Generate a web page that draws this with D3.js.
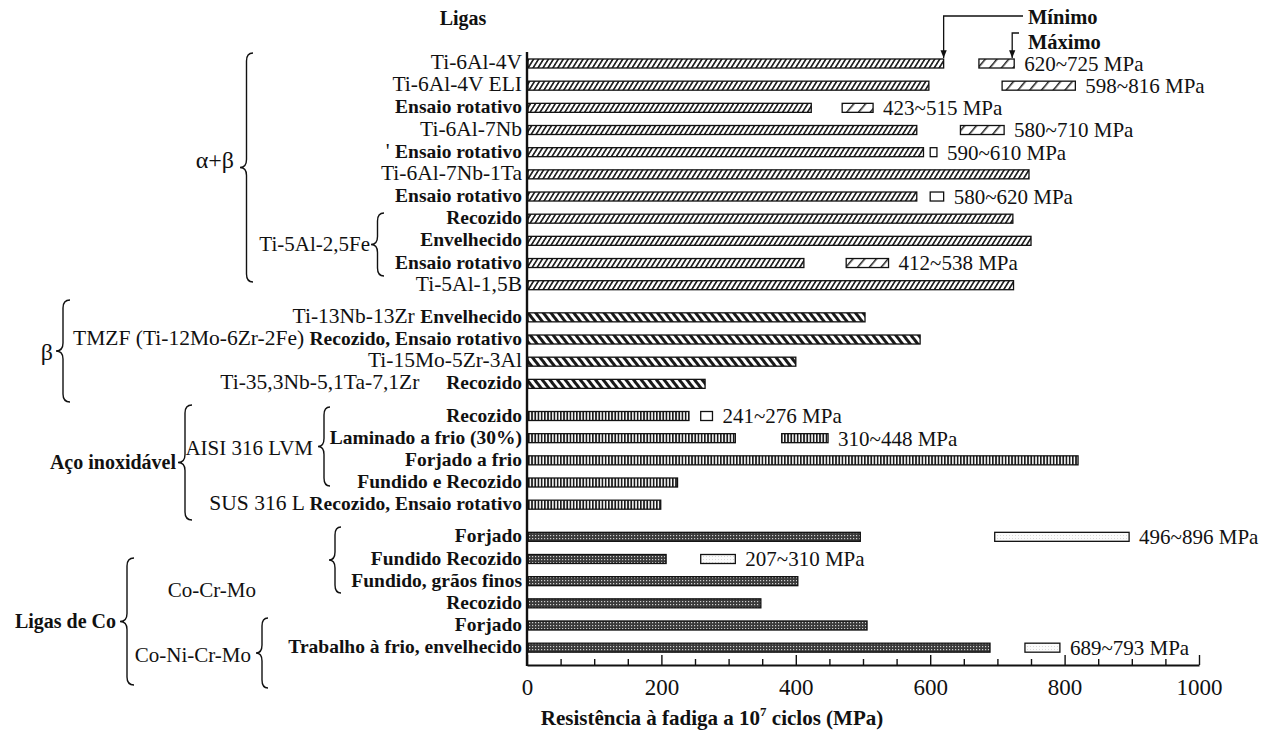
<!DOCTYPE html>
<html>
<head>
<meta charset="utf-8">
<script src="https://cdn.jsdelivr.net/npm/d3@7"></script>
<style>
  body { margin: 0; background: #fff; }
  text { font-family: "Liberation Serif", "Times New Roman", serif; fill: #111; }
</style>
</head>
<body>
<svg id="chart" width="1273" height="734"></svg>
<script>
// Fatigue strength at 10^7 cycles (MPa) of biomedical alloys
const alloyNames = [
  "Ti-6Al-4V", "Ti-6Al-4V ELI", "", "Ti-6Al-7Nb", "' ", "Ti-6Al-7Nb-1Ta", "",
  "", "", "", "Ti-5Al-1,5B",
  "Ti-13Nb-13Zr ", "TMZF (Ti-12Mo-6Zr-2Fe) ", "Ti-15Mo-5Zr-3Al", "Ti-35,3Nb-5,1Ta-7,1Zr     ",
  "", "", "", "", "SUS 316 L ",
  "", "", "", "", "", ""
];
const treatments = [
  "", "", "Ensaio rotativo", "", "Ensaio rotativo", "", "Ensaio rotativo",
  "Recozido", "Envelhecido", "Ensaio rotativo", "",
  "Envelhecido", "Recozido, Ensaio rotativo", "", "Recozido",
  "Recozido", "Laminado a frio (30%)", "Forjado a frio", "Fundido e Recozido", "Recozido, Ensaio rotativo",
  "Forjado", "Fundido Recozido", "Fundido, grãos finos", "Recozido", "Forjado", "Trabalho à frio, envelhecido"
];
const fatigueMin = [
  620, 598, 423, 580, 590, 747, 580,
  723, 750, 412, 724,
  503, 585, 400, 265,
  241, 310, 820, 224, 199,
  496, 207, 403, 348, 506, 689
];
const fatigueMax = [
  725, 816, 515, 710, 610, null, 620,
  null, null, 538, null,
  null, null, null, null,
  276, 448, null, null, null,
  896, 310, null, null, null, 793
];
// 0 = α+β titanium, 1 = β titanium, 2 = stainless steel, 3 = cobalt alloys
const rowFamily = [
  0, 0, 0, 0, 0, 0, 0, 0, 0, 0, 0,
  1, 1, 1, 1,
  2, 2, 2, 2, 2,
  3, 3, 3, 3, 3, 3
];
const xTicks = [0, 200, 400, 600, 800, 1000];

const rows = fatigueMin.map((v, i) => ({
  alloy: alloyNames[i], treat: treatments[i], min: v, max: fatigueMax[i],
  family: rowFamily[i], slot: i + rowFamily[i] * 0.45
}));

const svg = d3.select("#chart");
const x = d3.scaleLinear().domain([0, 1000]).range([527, 1199]);
const lastSlot = d3.max(rows, d => d.slot);
const y = d3.scaleLinear().domain([0, lastSlot]).range([63.5, 63.5 + 22.17 * lastSlot]);
const axisY = 665;
const barH = 9;

// ---- fill patterns ----
const defs = svg.append("defs");
function stripePattern(id, period, lineW, angle, bg, fg) {
  const p = defs.append("pattern").attr("id", id)
    .attr("patternUnits", "userSpaceOnUse")
    .attr("width", period).attr("height", 10)
    .attr("patternTransform", `rotate(${angle})`);
  p.append("rect").attr("width", period).attr("height", 10).attr("fill", bg);
  p.append("rect").attr("width", lineW).attr("height", 10).attr("fill", fg);
}
stripePattern("fwd", 4.2, 1.7, 32, "#fff", "#222");
stripePattern("fwdBox", 9, 1.5, 40, "#fff", "#222");
stripePattern("back", 6, 3, -38, "#fff", "#1a1a1a");
stripePattern("vert", 3.2, 1.7, 0, "#fff", "#1a1a1a");
const dots = defs.append("pattern").attr("id", "dots")
  .attr("patternUnits", "userSpaceOnUse").attr("width", 3).attr("height", 3);
dots.append("rect").attr("width", 3).attr("height", 3).attr("fill", "#3a3a3a");
dots.append("rect").attr("x", 1).attr("y", 1).attr("width", 1.2).attr("height", 1.2).attr("fill", "#cfcfcf");
const lightDots = defs.append("pattern").attr("id", "lightDots")
  .attr("patternUnits", "userSpaceOnUse").attr("width", 3).attr("height", 3);
lightDots.append("rect").attr("width", 3).attr("height", 3).attr("fill", "#fbfbfb");
lightDots.append("rect").attr("x", 1).attr("y", 1).attr("width", 1).attr("height", 1).attr("fill", "#d8d8d8");

const barFill = ["url(#fwd)", "url(#back)", "url(#vert)", "url(#dots)"];
const boxFill = ["url(#fwdBox)", "url(#back)", "url(#vert)", "url(#lightDots)"];

// ---- bars (minimum fatigue strength) ----
svg.append("g").selectAll("rect").data(rows).join("rect")
  .attr("x", x(0) + 1)
  .attr("y", d => y(d.slot) - barH / 2)
  .attr("width", d => x(d.min) - x(0) - 1)
  .attr("height", barH)
  .attr("fill", d => barFill[d.family])
  .attr("stroke", "#111").attr("stroke-width", 1.3);

// ---- range boxes: from mid-range to maximum ----
const ranged = rows.filter(d => d.max != null);
svg.append("g").selectAll("rect").data(ranged).join("rect")
  .attr("x", d => x((d.min + d.max) / 2))
  .attr("y", d => y(d.slot) - barH / 2)
  .attr("width", d => x(d.max) - x((d.min + d.max) / 2))
  .attr("height", barH)
  .attr("fill", d => (d.max - d.min < 50 ? "#fff" : boxFill[d.family]))
  .attr("stroke", "#111").attr("stroke-width", 1.3);

svg.append("g").selectAll("text").data(ranged).join("text")
  .attr("x", d => x(d.max) + 10)
  .attr("y", d => y(d.slot))
  .attr("dy", "0.35em")
  .style("font-size", "21px")
  .text(d => `${d.min}~${d.max} MPa`);

// ---- row labels: alloy (regular) followed by treatment (bold) ----
const lab = svg.append("g").selectAll("text").data(rows).join("text")
  .attr("x", 522).attr("y", d => y(d.slot)).attr("dy", "0.35em")
  .attr("text-anchor", "end")
  .style("white-space", "pre");
lab.append("tspan").style("font-size", "21.5px").text(d => d.alloy);
lab.append("tspan").style("font-size", "19.5px").style("font-weight", "bold").text(d => d.treat);

// ---- axes ----
svg.append("line").attr("x1", x(0)).attr("x2", x(0))
  .attr("y1", 52).attr("y2", axisY + 1)
  .attr("stroke", "#111").attr("stroke-width", 2.4);

const xAxis = d3.axisBottom(x)
  .tickValues(d3.range(0, 1001, 50))
  .tickSizeInner(-6).tickSizeOuter(0).tickPadding(14)
  .tickFormat(d => (xTicks.includes(d) ? d : ""));
const gx = svg.append("g").attr("transform", `translate(0,${axisY})`).call(xAxis);
gx.select(".domain").attr("stroke", "#111").attr("stroke-width", 2);
gx.selectAll(".tick line").attr("stroke", "#111").attr("stroke-width", 1.4)
  .attr("y2", d => (xTicks.includes(d) ? -10 : -6));
gx.selectAll(".tick text")
  .style("font-family", '"Liberation Serif", "Times New Roman", serif')
  .style("font-size", "23px").attr("fill", "#111");

const title = svg.append("text").attr("x", 712).attr("y", 725)
  .attr("text-anchor", "middle").style("font-size", "21px").style("font-weight", "bold");
title.append("tspan").text("Resistência à fadiga a 10");
title.append("tspan").attr("dy", -9).style("font-size", "13px").text("7");
title.append("tspan").attr("dy", 9).text(" ciclos (MPa)");

svg.append("text").attr("x", 463).attr("y", 18).attr("dy", "0.35em")
  .attr("text-anchor", "middle").style("font-size", "20px").style("font-weight", "bold")
  .text("Ligas");

// ---- Mínimo / Máximo call-outs ----
defs.append("marker").attr("id", "arrow").attr("viewBox", "0 0 10 10")
  .attr("refX", 10).attr("refY", 5).attr("markerWidth", 6).attr("markerHeight", 6)
  .attr("orient", "auto")
  .append("path").attr("d", "M0,1 L10,5 L0,9 Z").attr("fill", "#111");
const first = rows[0];
svg.append("path")
  .attr("d", `M1023,16 H${x(first.min)} V${y(first.slot) - barH / 2 - 1}`)
  .attr("fill", "none").attr("stroke", "#111").attr("stroke-width", 1.3)
  .attr("marker-end", "url(#arrow)");
svg.append("path")
  .attr("d", `M1019,33 H${x(first.max) - 2} V${y(first.slot) - barH / 2 - 1}`)
  .attr("fill", "none").attr("stroke", "#111").attr("stroke-width", 1.3)
  .attr("marker-end", "url(#arrow)");
svg.append("text").attr("x", 1028).attr("y", 17).attr("dy", "0.35em")
  .style("font-size", "20.5px").style("font-weight", "bold").text("Mínimo");
svg.append("text").attr("x", 1028).attr("y", 42).attr("dy", "0.35em")
  .style("font-size", "20.5px").style("font-weight", "bold").text("Máximo");

// ---- grouping braces ----
function brace(xTip, y0, y1, w) {
  const xm = xTip + w / 2, xe = xTip + w, ym = (y0 + y1) / 2, r = Math.min(8, (y1 - y0) / 6);
  return `M${xe},${y0} Q${xm},${y0} ${xm},${y0 + r} V${ym - r} Q${xm},${ym} ${xTip},${ym}` +
         ` Q${xm},${ym} ${xm},${ym + r} V${y1 - r} Q${xm},${y1} ${xe},${y1}`;
}
const braces = [
  { x: 240, y0: 53, y1: 282, w: 13 },
  { x: 371, y0: 213, y1: 276, w: 13 },
  { x: 56, y0: 300, y1: 402, w: 14 },
  { x: 178, y0: 405, y1: 520, w: 14 },
  { x: 318, y0: 407, y1: 486, w: 12 },
  { x: 329, y0: 527, y1: 593, w: 12 },
  { x: 120, y0: 558, y1: 685, w: 14 },
  { x: 256, y0: 618, y1: 688, w: 12 }
];
svg.append("g").selectAll("path").data(braces).join("path")
  .attr("d", d => brace(d.x, d.y0, d.y1, d.w))
  .attr("fill", "none").attr("stroke", "#111").attr("stroke-width", 1.4);

const groupLabels = [
  { t: "α+β", x: 234, y: 160, size: 24, bold: false },
  { t: "Ti-5Al-2,5Fe", x: 370, y: 244, size: 21, bold: false },
  { t: "β", x: 53, y: 352, size: 24, bold: false },
  { t: "Aço inoxidável", x: 176, y: 462, size: 20, bold: true },
  { t: "AISI 316 LVM", x: 313, y: 448, size: 21, bold: false },
  { t: "Co-Cr-Mo", x: 256, y: 590, size: 21, bold: false },
  { t: "Ligas de Co", x: 116, y: 621, size: 20, bold: true },
  { t: "Co-Ni-Cr-Mo", x: 251, y: 655, size: 21, bold: false }
];
svg.append("g").selectAll("text").data(groupLabels).join("text")
  .attr("x", d => d.x).attr("y", d => d.y).attr("dy", "0.35em")
  .attr("text-anchor", "end")
  .style("font-size", d => d.size + "px")
  .style("font-weight", d => (d.bold ? "bold" : "normal"))
  .text(d => d.t);
</script>
</body>
</html>
